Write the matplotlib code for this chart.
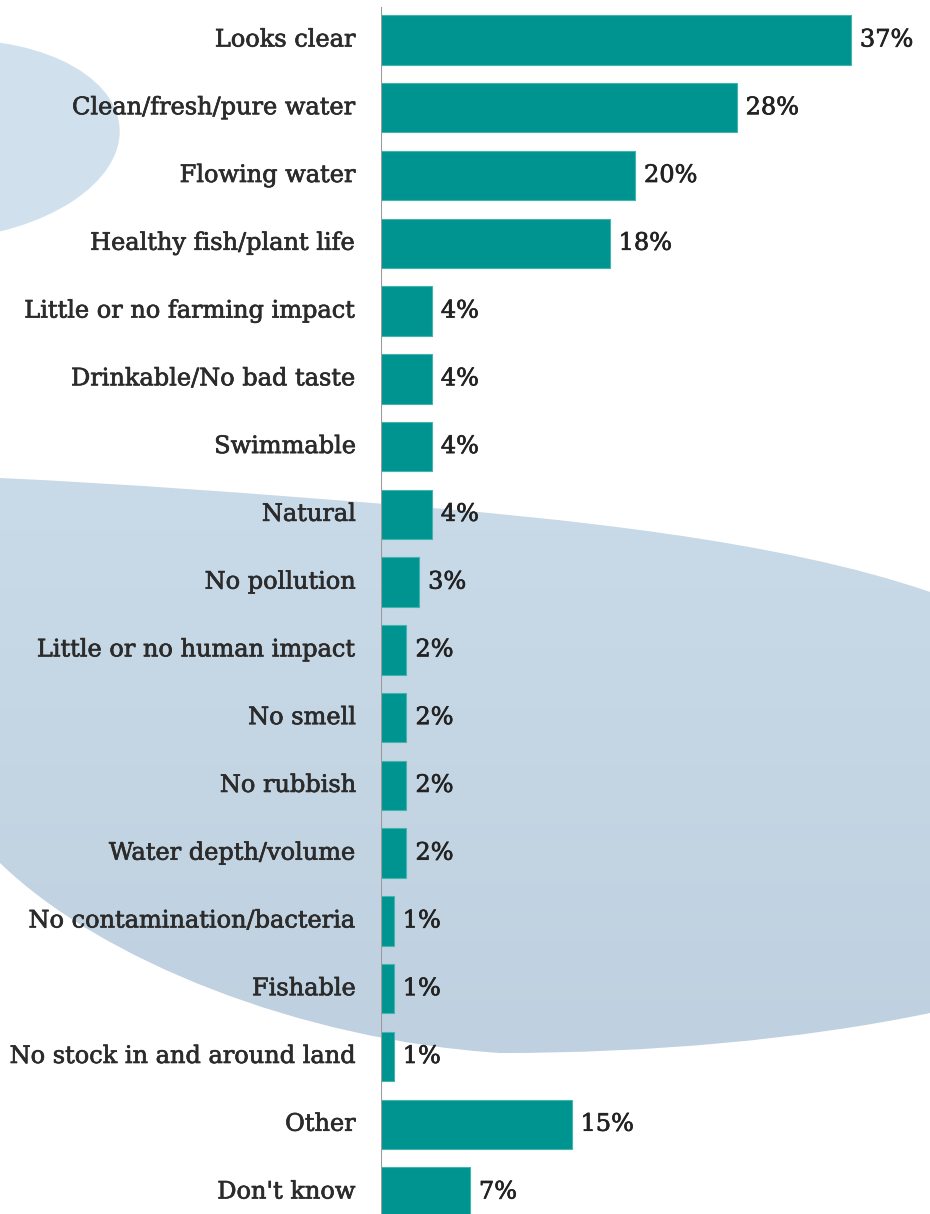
import numpy as np
import matplotlib.pyplot as plt
import matplotlib.patheffects as pe
from matplotlib.path import Path
from matplotlib.patches import PathPatch, Ellipse
from matplotlib.colors import LinearSegmentedColormap

labels = ["Looks clear", "Clean/fresh/pure water", "Flowing water",
          "Healthy fish/plant life", "Little or no farming impact",
          "Drinkable/No bad taste", "Swimmable", "Natural", "No pollution",
          "Little or no human impact", "No smell", "No rubbish",
          "Water depth/volume", "No contamination/bacteria", "Fishable",
          "No stock in and around land", "Other", "Don't know"]
values = [37, 28, 20, 18, 4, 4, 4, 4, 3, 2, 2, 2, 2, 1, 1, 1, 15, 7]

W, H = 930, 1214
fig = plt.figure(figsize=(W / 100, H / 100), dpi=100)
fig.patch.set_facecolor("white")

# decorative water shapes behind the chart, in pixel units
bg = fig.add_axes([0, 0, 1, 1], zorder=0)
bg.set_xlim(0, W)
bg.set_ylim(H, 0)
bg.axis("off")

bg.add_patch(Ellipse((-60, 140), 360, 200, angle=-4,
                     facecolor="#d0e1ed", edgecolor="none"))

verts = [(0, 478),
         (130, 484), (260, 494), (385, 504),
         (560, 518), (780, 540), (930, 592),
         (930, 1013),
         (800, 1040), (650, 1053), (500, 1053),
         (300, 1040), (100, 960), (0, 863),
         (0, 478)]
codes = [Path.MOVETO,
         Path.CURVE4, Path.CURVE4, Path.CURVE4,
         Path.CURVE4, Path.CURVE4, Path.CURVE4,
         Path.LINETO,
         Path.CURVE4, Path.CURVE4, Path.CURVE4,
         Path.CURVE4, Path.CURVE4, Path.CURVE4,
         Path.CLOSEPOLY]
swoosh = PathPatch(Path(verts, codes), facecolor="none", edgecolor="none")
bg.add_patch(swoosh)
grad = np.linspace(0, 1, 256).reshape(-1, 1)
cmap = LinearSegmentedColormap.from_list("water", ["#c9dae8", "#bfd0e0"])
img = bg.imshow(grad, cmap=cmap, extent=(0, W, 1060, 470), aspect="auto",
                origin="upper", zorder=1)
img.set_clip_path(swoosh)

# bar chart
ax = fig.add_axes([381 / W, 0, 1 - 381 / W, 1], zorder=2)
ax.patch.set_alpha(0)
pitch = 67.8
y = np.arange(len(labels))
ax.barh(y, values, height=0.73, color="#009490", edgecolor="#45b3ae",
        linewidth=0.8)
ax.set_xlim(0, (W - 381) / 12.7)
ax.set_ylim(17 + (H - 1192) / pitch, -40 / pitch)

for s in ax.spines.values():
    s.set_visible(False)
ax.set_xticks([])
ax.set_yticks([])
ax.axvline(0, ymin=0, ymax=1 - 8 / H, color="#9a9a9a", lw=1.5)

font = dict(family="DejaVu Serif", fontsize=17.3)
for yi, (lab, v) in enumerate(zip(labels, values)):
    t = ax.annotate(lab, (0, yi), xytext=(-18, 0), textcoords="offset points",
                    ha="right", va="center", color="#2b2b2b",
                    annotation_clip=False, **font)
    t.set_path_effects([pe.withStroke(linewidth=0.5, foreground="#2b2b2b")])
    t = ax.annotate(f"{v}%", (v, yi), xytext=(6.5, 0), textcoords="offset points",
                    ha="left", va="center", color="#222222", **font)
    t.set_path_effects([pe.withStroke(linewidth=0.5, foreground="#222222")])

fig.savefig("out.png", dpi=100)
